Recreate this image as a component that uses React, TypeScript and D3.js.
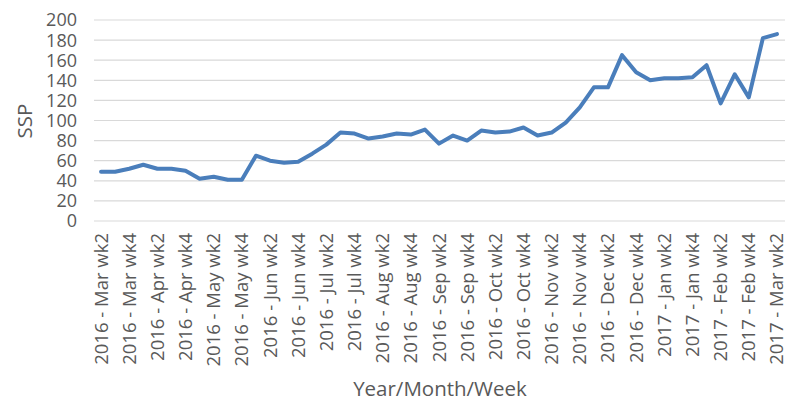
import React from "react";
import * as d3 from "d3";

const months2016 = ["Mar", "Apr", "May", "Jun", "Jul", "Aug", "Sep", "Oct", "Nov", "Dec"];
const months2017 = ["Jan", "Feb", "Mar"];

function buildCategories(): string[] {
  const out: string[] = [];
  // 2016 Mar wk2 .. 2017 Mar wk2, four weeks per month
  const all: [string, string][] = [
    ...months2016.map((m) => ["2016", m] as [string, string]),
    ...months2017.map((m) => ["2017", m] as [string, string]),
  ];
  for (const [y, m] of all) {
    for (let w = 1; w <= 4; w++) {
      if (y === "2016" && m === "Mar" && w < 2) continue;
      if (y === "2017" && m === "Mar" && w > 2) continue;
      out.push(`${y} - ${m} wk${w}`);
    }
  }
  return out;
}

const categories: string[] = buildCategories();

const ssp: number[] = [
  49, 49, 52, 56, 52, 52, 50, 42, 44, 41,
  41, 65, 60, 58, 59, 67, 76, 88, 87, 82,
  84, 87, 86, 91, 77, 85, 80, 90, 88, 89,
  93, 85, 88, 98, 113, 133, 133, 165, 148, 140,
  142, 142, 143, 155, 117, 146, 123, 182, 186,
];

const yTicks: number[] = [0, 20, 40, 60, 80, 100, 120, 140, 160, 180, 200];

const W = 788;
const H = 401;
const FONT = "'Open Sans', 'Noto Sans', sans-serif";
const TEXT = "#595959";

export default function App() {
  const x = d3.scaleBand<string>().domain(categories).range([94, 784]).padding(0);
  const y = d3.scaleLinear().domain([0, 200]).range([221, 20]);
  const cx = (c: string) => (x(c) as number) + x.bandwidth() / 2;

  const line = d3
    .line<number>()
    .x((_, i) => cx(categories[i]))
    .y((d) => y(d));

  return (
    <svg
      width={W}
      height={H}
      style={{ position: "absolute", left: 0, top: 0, background: "#fff" }}
    >
      <rect x={0} y={0} width={W} height={H} fill="#fff" />
      {yTicks.map((t) => (
        <g key={t}>
          <line x1={94} x2={785} y1={y(t)} y2={y(t)} stroke="#d9d9d9" strokeWidth={1.2} />
          <text
            x={77}
            y={y(t)}
            dy="0.36em"
            textAnchor="end"
            fontFamily={FONT}
            fontSize={18}
            fill={TEXT}
          >
            {t}
          </text>
        </g>
      ))}
      <path
        d={line(ssp) || ""}
        fill="none"
        stroke="#4a7ebb"
        strokeWidth={4}
        strokeLinejoin="round"
        strokeLinecap="round"
      />
      {categories.map((c, i) =>
        i % 2 === 0 ? (
          <text
            key={c}
            transform={`translate(${cx(c) + 6.5},233) rotate(-90)`}
            textAnchor="end"
            fontFamily={FONT}
            fontSize={18.5}
            fill={TEXT}
          >
            {c}
          </text>
        ) : null
      )}
      <text
        x={440}
        y={396}
        textAnchor="middle"
        fontFamily={FONT}
        fontSize={20.5}
        fill={TEXT}
      >
        Year/Month/Week
      </text>
      <text
        transform={`translate(32,121) rotate(-90)`}
        textAnchor="middle"
        fontFamily={FONT}
        fontSize={20.5}
        fill={TEXT}
      >
        SSP
      </text>
    </svg>
  );
}
